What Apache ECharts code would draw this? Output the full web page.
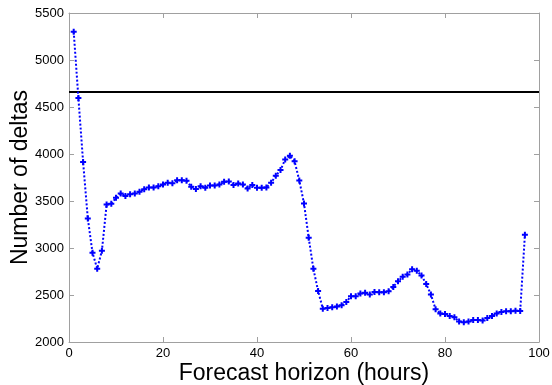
<!DOCTYPE html>
<html>
<head>
<meta charset="utf-8">
<script src="https://cdn.jsdelivr.net/npm/echarts@6/dist/echarts.min.js"></script>
<style>
  html, body { margin: 0; padding: 0; background: #fff; }
  #chart { width: 552px; height: 385px; }
</style>
</head>
<body>
<div id="chart"></div>
<script>
// Forecast horizon in hours, 1..97
const horizons = [
  1, 2, 3, 4, 5, 6, 7, 8, 9, 10, 11, 12, 13, 14, 15, 16, 17, 18, 19, 20,
  21, 22, 23, 24, 25, 26, 27, 28, 29, 30, 31, 32, 33, 34, 35, 36, 37, 38, 39, 40,
  41, 42, 43, 44, 45, 46, 47, 48, 49, 50, 51, 52, 53, 54, 55, 56, 57, 58, 59, 60,
  61, 62, 63, 64, 65, 66, 67, 68, 69, 70, 71, 72, 73, 74, 75, 76, 77, 78, 79, 80,
  81, 82, 83, 84, 85, 86, 87, 88, 89, 90, 91, 92, 93, 94, 95, 96, 97
];

// Number of deltas per horizon
const deltaCounts = [
  5300, 4595, 3915, 3315, 2950, 2780, 2970, 3462, 3472, 3534,
  3580, 3552, 3573, 3580, 3598, 3626, 3644, 3644, 3658, 3676,
  3694, 3688, 3722, 3722, 3716, 3652, 3628, 3658, 3640, 3665,
  3665, 3676, 3704, 3708, 3669, 3687, 3676, 3633, 3669, 3640,
  3640, 3644, 3694, 3768, 3829, 3942, 3981, 3922, 3719, 3474,
  3108, 2778, 2543, 2355, 2362, 2369, 2377, 2390, 2426, 2487,
  2487, 2515, 2523, 2505, 2533, 2529, 2529, 2540, 2586, 2646,
  2693, 2718, 2774, 2757, 2707, 2618, 2505, 2348, 2302, 2298,
  2277, 2262, 2219, 2209, 2219, 2234, 2234, 2230, 2255, 2277,
  2302, 2319, 2326, 2326, 2333, 2330, 3140
];

// Reference level drawn as a horizontal line
const referenceLevel = 4660;

const xTicks = [0, 20, 40, 60, 80, 100];
const yTicks = [2000, 2500, 3000, 3500, 4000, 4500, 5000, 5500];

const plusSymbol = 'path://M2,0H4V2H6V4H4V6H2V4H0V2H2Z';
const axisGray = '#a0a0a0';
const fontFamily = '"Liberation Sans", Arial, sans-serif';

const chart = echarts.init(document.getElementById('chart'), null, { renderer: 'canvas' });

const baseX = {
  type: 'value',
  min: xTicks[0],
  max: xTicks[xTicks.length - 1],
  interval: 20,
  splitLine: { show: false },
  axisLine: { show: true, onZero: false, lineStyle: { color: axisGray, width: 1 } },
  axisTick: { show: true, inside: true, length: 5, lineStyle: { color: axisGray } }
};
const baseY = {
  type: 'value',
  min: yTicks[0],
  max: yTicks[yTicks.length - 1],
  interval: 500,
  splitLine: { show: false },
  axisLine: { show: true, onZero: false, lineStyle: { color: axisGray, width: 1 } },
  axisTick: { show: true, inside: true, length: 5, lineStyle: { color: axisGray } }
};

chart.setOption({
  animation: false,
  backgroundColor: '#ffffff',
  grid: { left: 69, right: 13, top: 13, bottom: 43, containLabel: false, outerBoundsMode: 'none' },
  xAxis: [
    Object.assign({}, baseX, {
      position: 'bottom',
      name: 'Forecast horizon (hours)',
      nameLocation: 'middle',
      nameGap: 20,
      nameMoveOverlap: false,
      nameTextStyle: { fontSize: 23, color: '#000', fontFamily: fontFamily },
      axisLabel: { color: '#000', fontSize: 13, margin: 5, fontFamily: fontFamily }
    }),
    Object.assign({}, baseX, {
      position: 'top',
      axisLabel: { show: false }
    })
  ],
  yAxis: [
    Object.assign({}, baseY, {
      position: 'left',
      name: 'Number of deltas',
      nameLocation: 'middle',
      nameGap: 37,
      nameMoveOverlap: false,
      nameTextStyle: { fontSize: 23, color: '#000', fontFamily: fontFamily },
      axisLabel: {
        color: '#000', fontSize: 13, margin: 5, fontFamily: fontFamily,
        formatter: (v) => String(v)
      }
    }),
    Object.assign({}, baseY, {
      position: 'right',
      axisLabel: { show: false }
    })
  ],
  series: [
    {
      type: 'line',
      data: [[xTicks[0], referenceLevel], [xTicks[xTicks.length - 1], referenceLevel]],
      showSymbol: false,
      symbol: 'none',
      lineStyle: { color: '#000000', width: 2 },
      silent: true,
      z: 2
    },
    {
      type: 'line',
      data: horizons.map((h, i) => [h, deltaCounts[i]]),
      symbol: plusSymbol,
      symbolSize: 6,
      showAllSymbol: true,
      itemStyle: { color: '#0000ff' },
      lineStyle: { color: '#0000ff', width: 2, type: [2, 2] },
      z: 3
    }
  ]
});
</script>
</body>
</html>
